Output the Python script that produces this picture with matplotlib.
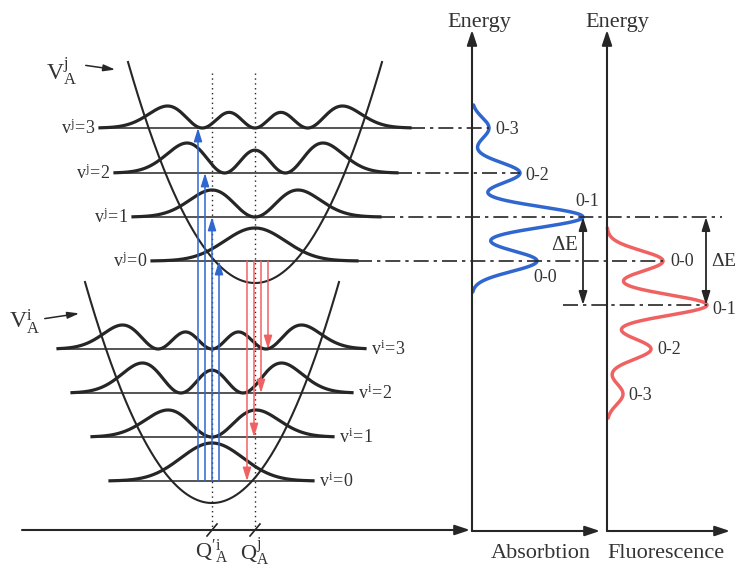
import numpy as np
import matplotlib
matplotlib.use("Agg")
import matplotlib.pyplot as plt
from math import factorial

plt.rcParams['font.family'] = ['Liberation Serif', 'DejaVu Serif']
plt.rcParams['mathtext.fontset'] = 'custom'
plt.rcParams['mathtext.rm'] = 'Liberation Serif'
plt.rcParams['mathtext.it'] = 'Liberation Serif:italic'

# energies of the vibrational levels (canvas units, y grows downwards)
upper_levels = [261, 217, 173, 128]      # v^j = 0..3
lower_levels = [481, 437, 393, 349]      # v^i = 0..3
upper_wave_h = [33, 27, 30, 22]
lower_wave_h = [38, 27, 30, 24]
upper_extent = [(152, 357), (133, 380), (115, 397), (100, 410)]
lower_extent = [(110, 313), (92, 333), (72, 352), (58, 365)]
q_upper = 255   # Q_A^j
q_lower = 212   # Q_A^i

# spectra: peak intensities for 0-0, 0-1, 0-2, 0-3
abs_intensity = [65, 111, 48, 17]
fluo_intensity = [56, 100, 44, 16]
abs_labels = ['0-0', '0-1', '0-2', '0-3']
fluo_labels = ['0-0', '0-1', '0-2', '0-3']

dark = '#262626'
txt = '#333333'
blue = '#2f66cf'
red = '#f06262'


def hermite(n, x):
    if n == 0:
        return np.ones_like(x)
    h0, h1 = np.ones_like(x), 2 * x
    for k in range(1, n):
        h0, h1 = h1, 2 * x * h1 - 2 * k * h0
    return h1


def psi2(n, xi):
    p = hermite(n, xi) ** 2 * np.exp(-xi ** 2) / (2 ** n * factorial(n))
    return p / p.max()


fig = plt.figure(figsize=(7.38, 5.70), dpi=100)
ax = fig.add_axes([0, 0, 1, 1])
ax.set_xlim(0, 738)
ax.set_ylim(570, 0)
ax.axis('off')

# potential curves
k = 0.0137
for xc, yv in [(q_upper, 283), (q_lower, 503)]:
    xs = np.linspace(xc - 127, xc + 127, 300)
    ax.plot(xs, yv - k * (xs - xc) ** 2, color=dark, lw=1.5)

# dotted equilibrium lines
for xq in [q_lower, q_upper]:
    ax.plot([xq, xq], [73, 530], color=dark, lw=1, ls=(0, (1, 2.5)))

# levels and wavefunctions
for levels, ext, hts, xc, scale in [(upper_levels, upper_extent, upper_wave_h, q_upper, 43),
                                    (lower_levels, lower_extent, lower_wave_h, q_lower, 44)]:
    for n, (y, (x0, x1), h) in enumerate(zip(levels, ext, hts)):
        ax.plot([x0, x1], [y, y], color=dark, lw=1.1)
        xs = np.linspace(x0, x1, 500)
        ax.plot(xs, y - h * psi2(n, (xs - xc) / scale), color=dark, lw=2.3)

for n, (y, (x0, x1)) in enumerate(zip(upper_levels, upper_extent)):
    ax.text(x0 - 5, y, r'$\mathregular{v^{j}\!=\!%d}$' % n, ha='right', va='center',
            fontsize=13, color=txt)
for n, (y, (x0, x1)) in enumerate(zip(lower_levels, lower_extent)):
    ax.text(x1 + 6, y, r'$\mathregular{v^{i}\!=\!%d}$' % n, ha='left', va='center',
            fontsize=13, color=txt)

# absorption (blue) and fluorescence (red) transitions
abs_x = [219, 212, 205, 198]
fluo_x = [247, 254, 261, 268]
for xa, yt in zip(abs_x, upper_levels):
    ax.annotate('', xy=(xa, yt), xytext=(xa, lower_levels[0]),
                arrowprops=dict(arrowstyle='-|>,head_width=0.25,head_length=0.8',
                                color=blue, lw=1.1, shrinkA=0, shrinkB=0))
for xf, yt in zip(fluo_x, lower_levels):
    ax.annotate('', xy=(xf, yt), xytext=(xf, upper_levels[0]),
                arrowprops=dict(arrowstyle='-|>,head_width=0.25,head_length=0.8',
                                color=red, lw=1.1, shrinkA=0, shrinkB=0))

# axes
arrow = dict(arrowstyle='-|>,head_width=0.3,head_length=0.9', color=dark, lw=1.5,
             shrinkA=0, shrinkB=0)
ax.annotate('', xy=(470, 530), xytext=(22, 530), arrowprops=arrow)
for x0, x1 in [(472, 600), (607, 730)]:
    ax.annotate('', xy=(x0, 30), xytext=(x0, 531), arrowprops=arrow)
    ax.annotate('', xy=(x1, 531), xytext=(x0, 531), arrowprops=arrow)
for xq in [q_lower, q_upper]:
    ax.plot([xq - 5, xq + 5], [536, 524], color=dark, lw=1.2)

ax.text(q_lower, 552, r"$\mathregular{Q'^{i}_{A}}$", ha='center', va='center', fontsize=16, color=txt)
ax.text(q_upper, 552, r"$\mathregular{Q^{j}_{A}}$", ha='center', va='center', fontsize=16, color=txt)
ax.text(62, 72, r'$\mathregular{V^{j}_{A}}$', ha='center', va='center', fontsize=17, color=txt)
ax.annotate('', xy=(118, 70), xytext=(83, 65),
            arrowprops=dict(arrowstyle='-|>,head_width=0.2,head_length=0.7', color=dark, lw=1.1))
ax.text(25, 322, r'$\mathregular{V^{i}_{A}}$', ha='center', va='center', fontsize=17, color=txt)
ax.annotate('', xy=(82, 313), xytext=(42, 319),
            arrowprops=dict(arrowstyle='-|>,head_width=0.2,head_length=0.7', color=dark, lw=1.1))

ax.text(479, 22, 'Energy', ha='center', va='center', fontsize=16, color=txt)
ax.text(617, 22, 'Energy', ha='center', va='center', fontsize=16, color=txt)
ax.text(541, 553, 'Absorbtion', ha='center', va='center', fontsize=16, color=txt)
ax.text(666, 553, 'Fluorescence', ha='center', va='center', fontsize=16, color=txt)

# spectra
sigma = 10.5
ya = np.linspace(105, 292, 600)
xa_curve = 472 + sum(a * np.exp(-(ya - c) ** 2 / (2 * sigma ** 2))
                     for a, c in zip(abs_intensity, upper_levels))
ax.plot(xa_curve, ya, color=blue, lw=2.5, solid_capstyle='round')
fluo_centers = [upper_levels[0] + (upper_levels[0] - y) for y in upper_levels]
yf = np.linspace(228, 418, 600)
xf_curve = 607 + sum(a * np.exp(-(yf - c) ** 2 / (2 * sigma ** 2))
                     for a, c in zip(fluo_intensity, fluo_centers))
ax.plot(xf_curve, yf, color=red, lw=2.5, solid_capstyle='round')

# dash-dot guides
dd = (0, (9, 3, 2, 3))
abs_peak_x = [472 + a for a in abs_intensity]
fluo_peak_x = [607 + a for a in fluo_intensity]
guide_end = [fluo_peak_x[0], 722, abs_peak_x[2], abs_peak_x[3]]
for y, (x0, x1), xe in zip(upper_levels, upper_extent, guide_end):
    ax.plot([x1, xe], [y, y], color=dark, lw=1.2, ls=dd)
ax.plot([563, fluo_peak_x[1]], [fluo_centers[1]] * 2, color=dark, lw=1.2, ls=dd)

# delta E arrows
dbl = dict(arrowstyle='<|-|>,head_width=0.25,head_length=0.8', color=dark, lw=1.3,
           shrinkA=0, shrinkB=0)
ax.annotate('', xy=(583, upper_levels[1]), xytext=(583, fluo_centers[1]), arrowprops=dbl)
ax.annotate('', xy=(706, upper_levels[1]), xytext=(706, fluo_centers[1]), arrowprops=dbl)
ax.text(565, 245, r'$\mathregular{\Delta E}$', ha='center', va='center', fontsize=15, color=txt)
ax.text(736, 262, r'$\mathregular{\Delta E}$', ha='right', va='center', fontsize=14, color=txt)

# peak labels
abs_lab_pos = [(533, 278, 'left'), (575, 202, 'left'), (525, 175, 'left'), (495, 130, 'left')]
for lab, (x, y, ha) in zip(abs_labels, abs_lab_pos):
    ax.text(x, y, lab, ha=ha, va='center', fontsize=13, color=txt)
fluo_lab_pos = [(670, 262), (712, 309), (657, 350), (628, 396)]
for lab, (x, y) in zip(fluo_labels, fluo_lab_pos):
    ax.text(x, y, lab, ha='left', va='center', fontsize=13, color=txt)

fig.savefig('out.png', dpi=100)
